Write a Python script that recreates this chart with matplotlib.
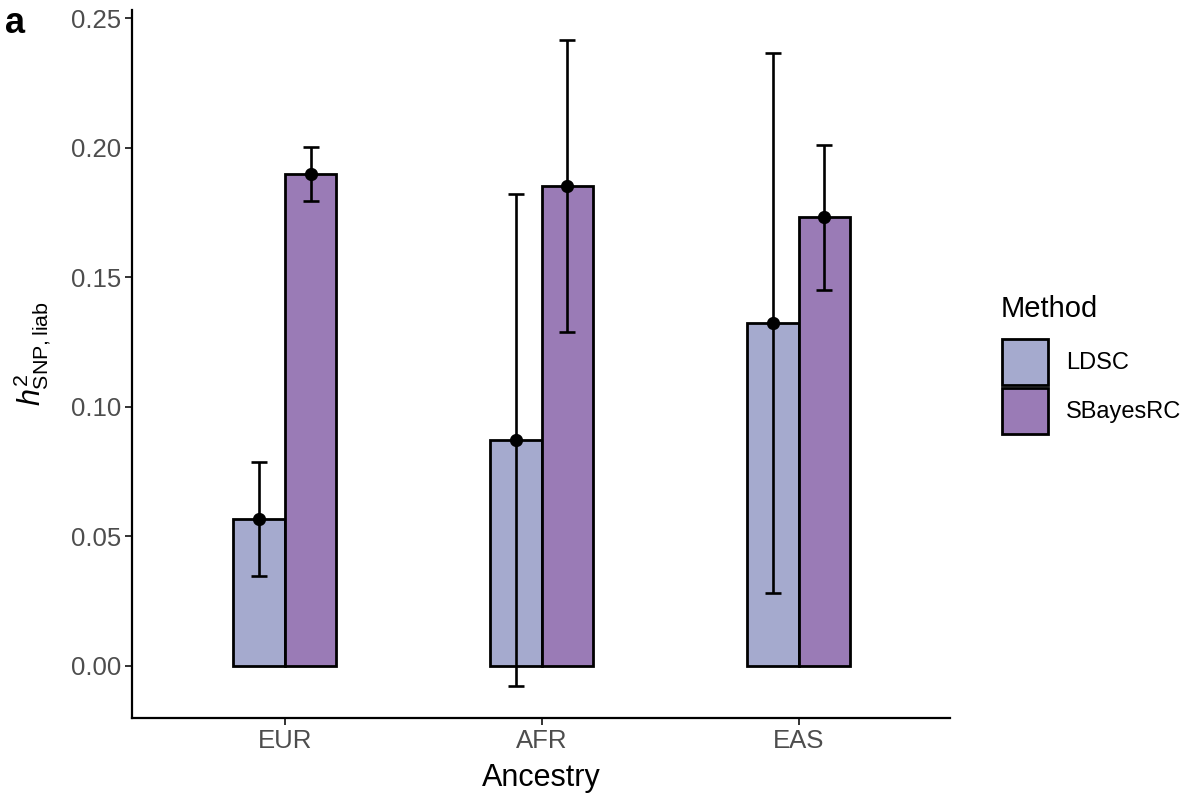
import matplotlib
matplotlib.use("Agg")
import matplotlib.pyplot as plt
from matplotlib.patches import Patch
import numpy as np

plt.rcParams['font.family'] = ['Liberation Sans', 'DejaVu Sans']
plt.rcParams['mathtext.fontset'] = 'custom'
plt.rcParams['mathtext.rm'] = 'Liberation Sans'
plt.rcParams['mathtext.it'] = 'Liberation Sans:italic'

ancestry = ["EUR", "AFR", "EAS"]
methods = ["LDSC", "SBayesRC"]
colors = ["#A5AACE", "#9A7BB6"]

# estimates and 95% CI bounds
h2 = {
    "LDSC":     [0.0567, 0.0872, 0.1324],
    "SBayesRC": [0.1900, 0.1852, 0.1731],
}
lower = {
    "LDSC":     [0.0347, -0.0077, 0.0281],
    "SBayesRC": [0.1794, 0.1287, 0.1452],
}
upper = {
    "LDSC":     [0.0787, 0.1820, 0.2364],
    "SBayesRC": [0.2004, 0.2415, 0.2012],
}

fig = plt.figure(figsize=(12, 8.02), dpi=100)
ax = fig.add_axes([0.11, 0.1047, 0.6817, 0.8828])

x = np.arange(1, len(ancestry) + 1)
width = 0.2
offsets = [-width / 2, width / 2]

for m, col, off in zip(methods, colors, offsets):
    vals = np.array(h2[m])
    lo = np.array(lower[m])
    hi = np.array(upper[m])
    ax.bar(x + off, vals, width=width, color=col, edgecolor="black",
           linewidth=2.0, zorder=2)
    ax.errorbar(x + off, vals, yerr=[vals - lo, hi - vals], fmt="o",
                color="black", ms=8.5, elinewidth=1.9, capsize=6,
                capthick=1.9, zorder=3)

ax.set_xlim(0.405, 3.59)
ax.set_ylim(-0.0201, 0.2531)
ax.set_xticks(x)
ax.set_xticklabels(ancestry)
ax.set_yticks([0, 0.05, 0.10, 0.15, 0.20, 0.25])
ax.set_yticklabels(["0.00", "0.05", "0.10", "0.15", "0.20", "0.25"])

for s in ["top", "right"]:
    ax.spines[s].set_visible(False)
for s in ["left", "bottom"]:
    ax.spines[s].set_linewidth(1.6)
ax.tick_params(axis="both", labelsize=18.5, labelcolor="#4D4D4D", color="#333333",
               width=1.4, length=5, pad=3)

ax.set_xlabel("Ancestry", fontsize=22, labelpad=7)
ax.set_ylabel(r"$h^2_{\mathrm{SNP,liab}}$", fontsize=22, labelpad=0)
ax.yaxis.set_label_coords(-0.097, 0.515)

# legend: title drawn separately so the gap to the keys matches
fig.text(1001 / 1200, 1 - 317 / 802, "Method", fontsize=21, va="baseline",
         ha="left")
handles = [Patch(facecolor=c, edgecolor="black", linewidth=2.0, label=m)
           for m, c in zip(methods, colors)]
leg = fig.legend(handles=handles, loc="upper left",
                 bbox_to_anchor=(1002 / 1200, 1 - 339 / 802), frameon=False,
                 fontsize=17, handlelength=1.95, handleheight=2.62,
                 handletextpad=0.75, labelspacing=0.12, borderaxespad=0,
                 borderpad=0)

fig.text(0.004, 0.992, "a", fontsize=26, fontweight="bold", va="top")

fig.savefig("out.png", dpi=100)
